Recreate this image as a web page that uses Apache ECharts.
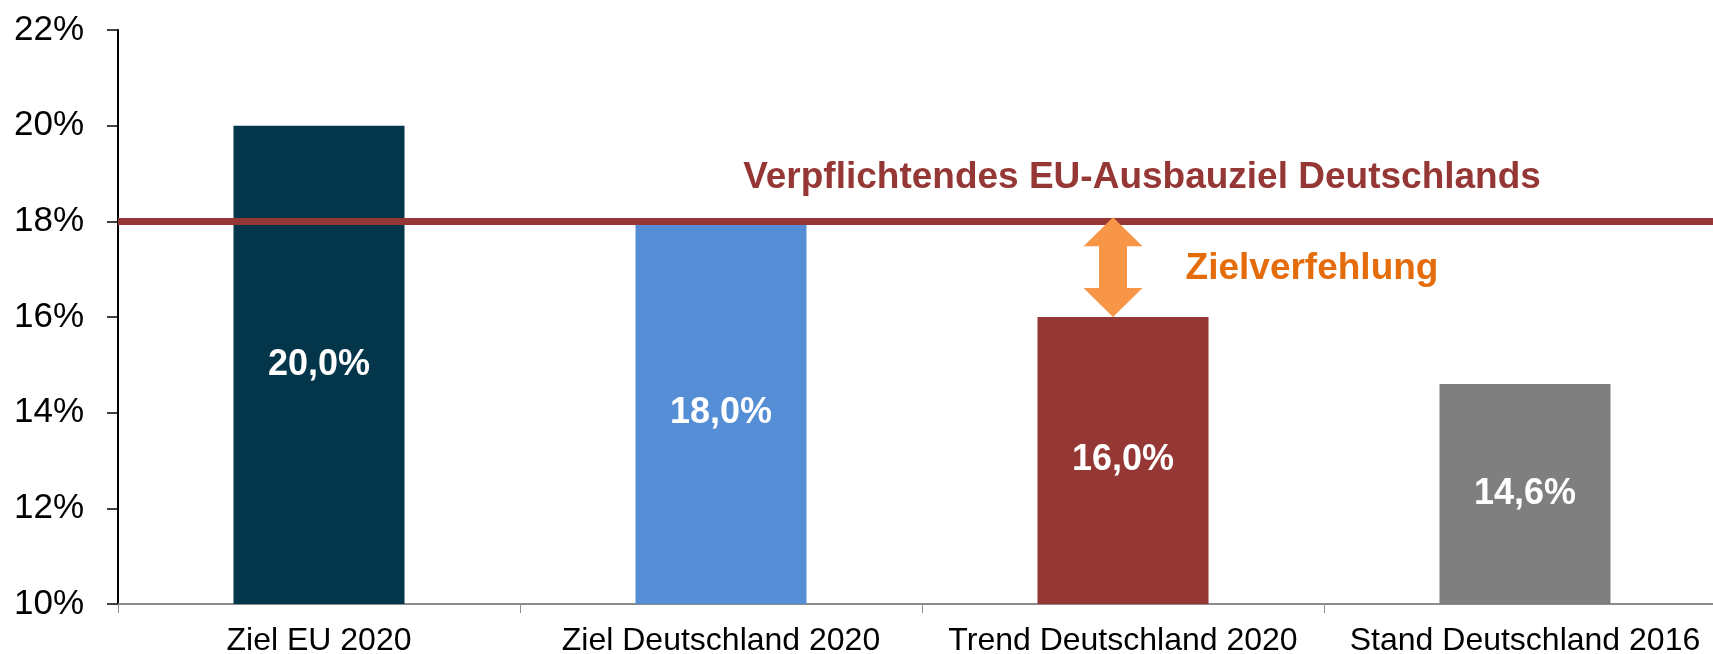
<!DOCTYPE html>
<html>
<head>
<meta charset="utf-8">
<script src="https://cdn.jsdelivr.net/npm/echarts@6/dist/echarts.min.js"></script>
<style>
  html, body { margin: 0; padding: 0; background: #fff; }
  #chart { width: 1713px; height: 654px; }
</style>
</head>
<body>
<div id="chart"></div>
<script>
const categories = ["Ziel EU 2020", "Ziel Deutschland 2020", "Trend Deutschland 2020", "Stand Deutschland 2016"];
const values = [20.0, 18.0, 16.0, 14.6];
const targetValue = 18;
const targetLabel = "Verpflichtendes EU-Ausbauziel Deutschlands";
const gapCategory = "Trend Deutschland 2020";
const gapRange = [18, 16];
const gapLabel = "Zielverfehlung";
const yTicks = { min: 10, max: 22, interval: 2 };

const barColors = ["#03364b", "#558ed5", "#953735", "#7f7f7f"];
const font = "'Liberation Sans', Arial, sans-serif";

const chart = echarts.init(document.getElementById("chart"));
const gapIndex = categories.indexOf(gapCategory);

// the plot runs a little past the right edge, like the original cut-off slide
const option = {
  animation: false,
  grid: { left: 118, width: 1608, top: 30, bottom: 50, outerBoundsMode: "none" },
  xAxis: {
    type: "category",
    data: categories,
    axisLine: { lineStyle: { color: "#8c8c8c", width: 2 } },
    axisTick: { show: true, length: 9, lineStyle: { color: "#8c8c8c", width: 1 } },
    axisLabel: { color: "#000", fontSize: 32, fontFamily: font, margin: 21, interval: 0 },
  },
  yAxis: {
    type: "value",
    min: yTicks.min,
    max: yTicks.max,
    interval: yTicks.interval,
    splitLine: { show: false },
    axisLine: { show: true, lineStyle: { color: "#000", width: 2 } },
    axisTick: { show: true, length: 11, lineStyle: { color: "#000", width: 1.5 } },
    axisLabel: { color: "#000", fontSize: 35, fontFamily: font, margin: 34, formatter: "{value}%" },
  },
  series: [
    {
      type: "bar",
      barWidth: 171,
      data: values.map((v, i) => ({ value: v, itemStyle: { color: barColors[i] } })),
      label: {
        show: true,
        position: "inside",
        color: "#fff",
        fontWeight: "bold",
        fontSize: 36,
        fontFamily: font,
        formatter: (p) => p.value.toFixed(1).replace(".", ",") + "%",
      },
      markLine: {
        silent: true,
        symbol: "none",
        label: { show: false },
        lineStyle: { color: "#953735", width: 7, type: "solid" },
        data: [{ yAxis: targetValue }],
        z: 5,
      },
      markPoint: {
        silent: true,
        symbol: "rect",
        symbolSize: 1,
        itemStyle: { color: "rgba(0,0,0,0)" },
        data: [
          {
            coord: [gapCategory, targetValue],
            label: {
              show: true,
              formatter: targetLabel,
              color: "#953735",
              fontWeight: "bold",
              fontSize: 37,
              fontFamily: font,
              offset: [19, -44],
            },
          },
          {
            coord: [gapCategory, (gapRange[0] + gapRange[1]) / 2],
            label: {
              show: true,
              formatter: gapLabel,
              color: "#e46c0a",
              fontWeight: "bold",
              fontSize: 37,
              fontFamily: font,
              offset: [189, 0],
            },
          },
        ],
      },
    },
    {
      type: "custom",
      z: 6,
      silent: true,
      encode: { x: 0, y: [1, 2] },
      data: [[gapIndex, gapRange[0], gapRange[1]]],
      renderItem: (params, api) => {
        const top = api.coord([api.value(0), api.value(1)]);
        const bottom = api.coord([api.value(0), api.value(2)]);
        const x = top[0] - 10;
        const y1 = top[1] - 4;
        const y2 = bottom[1];
        const hw = 29.5, sw = 14, hh = 29;
        return {
          type: "polygon",
          shape: {
            points: [
              [x, y1], [x + hw, y1 + hh], [x + sw, y1 + hh], [x + sw, y2 - hh],
              [x + hw, y2 - hh], [x, y2], [x - hw, y2 - hh], [x - sw, y2 - hh],
              [x - sw, y1 + hh], [x - hw, y1 + hh],
            ],
          },
          style: { fill: "#f79646" },
        };
      },
    },
  ],
};

chart.setOption(option);
</script>
</body>
</html>
